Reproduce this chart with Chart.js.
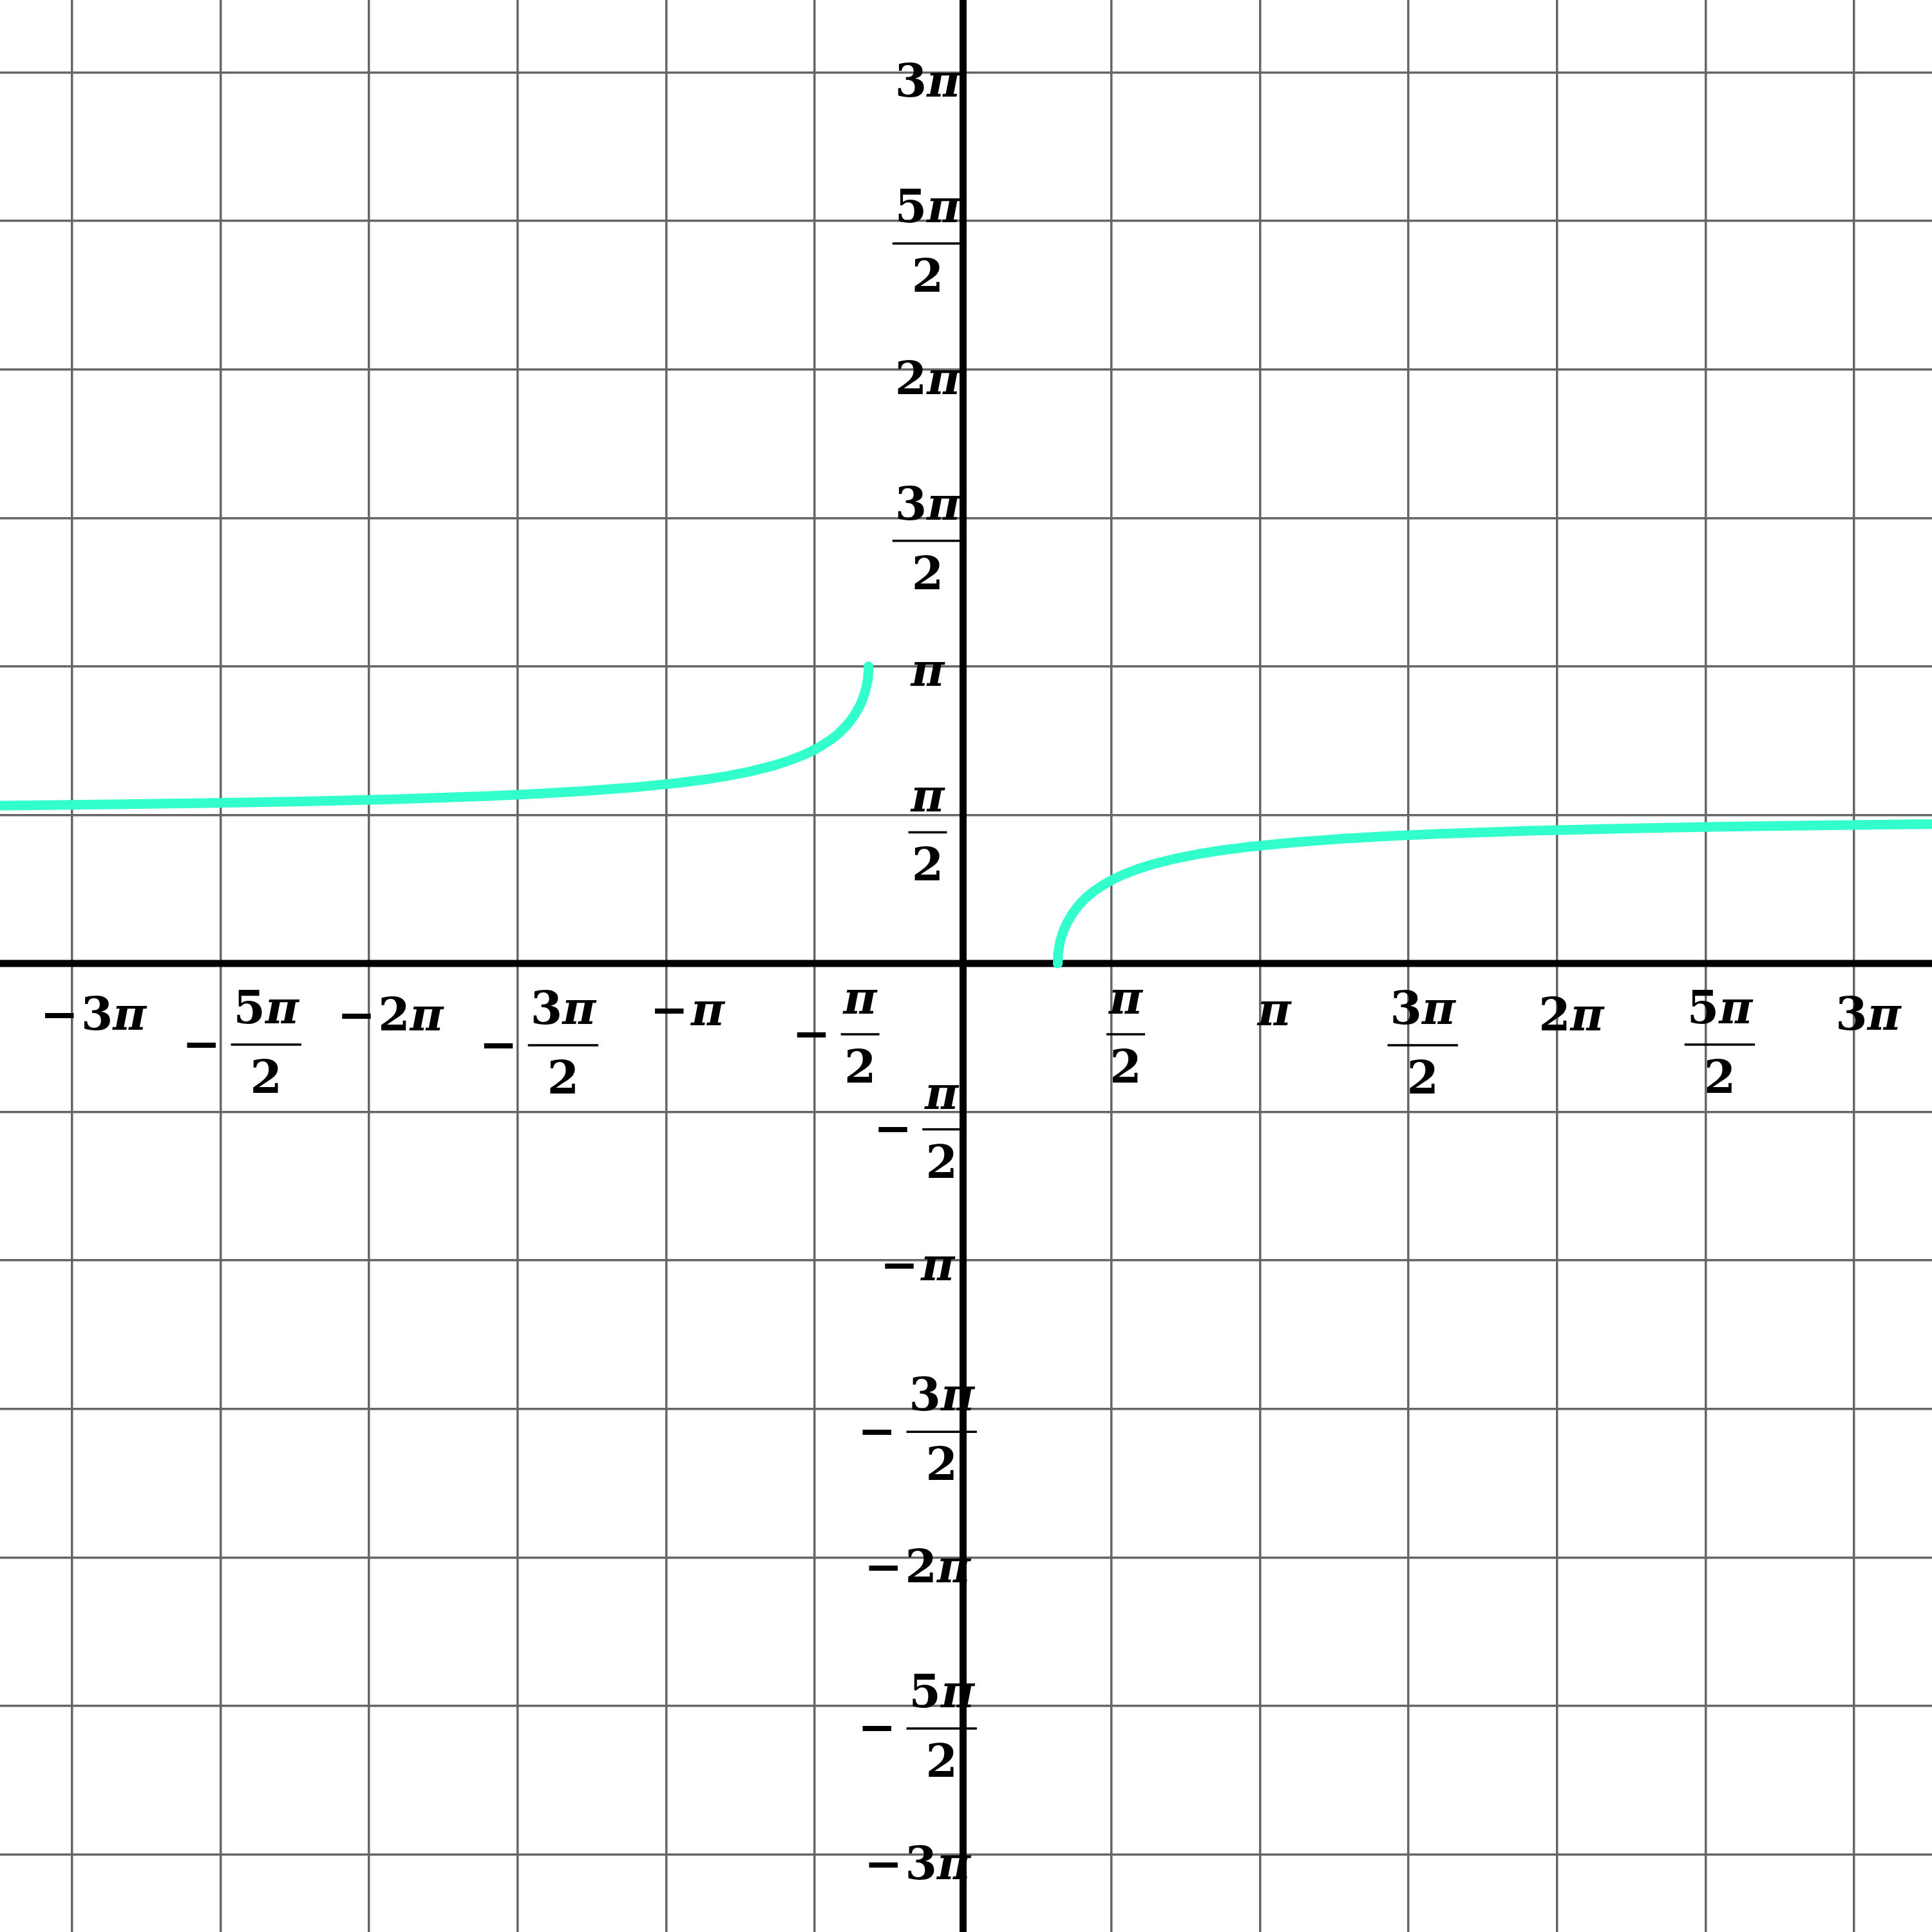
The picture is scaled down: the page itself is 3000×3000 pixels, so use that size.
<!DOCTYPE html>
<html>
<head>
<meta charset="utf-8">
<script src="https://cdn.jsdelivr.net/npm/chart.js@4"></script>
<style>
  html, body { margin: 0; padding: 0; background: #fff; }
  #wrap { width: 3000px; height: 3000px; }
</style>
</head>
<body>
<div id="wrap"><canvas id="graph" width="3000" height="3000"></canvas></div>
<script>
// right branch of the curve (x >= 1)
const rightX = [1, 1.002, 1.005, 1.01, 1.02, 1.03, 1.04, 1.06, 1.08, 1.1, 1.15, 1.2, 1.25, 1.3, 1.35, 1.4, 1.5, 1.6, 1.7, 1.85, 2, 2.25, 2.5, 2.75, 3, 3.5, 4, 4.5, 5, 6, 7, 8, 9, 10, 10.25];
const rightY = [0, 0.063, 0.100, 0.141, 0.198, 0.242, 0.278, 0.338, 0.388, 0.430, 0.517, 0.586, 0.644, 0.695, 0.738, 0.775, 0.841, 0.896, 0.942, 1.000, 1.047, 1.110, 1.159, 1.199, 1.231, 1.281, 1.318, 1.347, 1.369, 1.403, 1.427, 1.446, 1.460, 1.471, 1.473];

// left branch (x <= -1)
const leftX = [-10.2, -10, -9, -8, -7, -6, -5, -4.5, -4, -3.5, -3, -2.75, -2.5, -2.25, -2, -1.85, -1.7, -1.6, -1.5, -1.4, -1.35, -1.3, -1.25, -1.2, -1.15, -1.1, -1.08, -1.06, -1.04, -1.03, -1.02, -1.01, -1.005, -1.002, -1];
const leftY = [1.669, 1.671, 1.682, 1.696, 1.714, 1.738, 1.772, 1.795, 1.824, 1.861, 1.911, 1.943, 1.982, 2.031, 2.094, 2.142, 2.200, 2.246, 2.301, 2.366, 2.404, 2.447, 2.498, 2.556, 2.625, 2.712, 2.754, 2.804, 2.864, 2.900, 2.944, 3.001, 3.042, 3.079, 3.142];

// grid / tick positions in steps of pi/2, and their labels
const tickSteps = [-6, -5, -4, -3, -2, -1, 1, 2, 3, 4, 5, 6];
const tickLabels = ['−3π', '−5π/2', '−2π', '−3π/2', '−π', '−π/2', 'π/2', 'π', '3π/2', '2π', '5π/2', '3π'];

const curveColor = '#33FFCC';
const FONT_NUM = 'bold 71px "DejaVu Serif"';
const FONT_PI = 'bold italic 71px "DejaVu Serif"';

function parseLabel(s) {
  let neg = s.startsWith('−');
  if (neg) s = s.slice(1);
  let parts = s.split('/');
  return { neg: neg, num: parts[0], den: parts[1] || null };
}

function termMetrics(ctx, s) {
  let w = 0, asc = 0, desc = 0;
  for (const ch of s) {
    ctx.font = ch === 'π' ? FONT_PI : FONT_NUM;
    const m = ctx.measureText(ch);
    w += m.width;
    asc = Math.max(asc, m.actualBoundingBoxAscent);
    desc = Math.max(desc, m.actualBoundingBoxDescent);
  }
  return { w: w, asc: asc, desc: desc };
}

function drawTerm(ctx, s, left, base) {
  let xx = left;
  for (const ch of s) {
    ctx.font = ch === 'π' ? FONT_PI : FONT_NUM;
    ctx.fillText(ch, xx, base);
    xx += ctx.measureText(ch).width;
  }
}

function drawLabel(ctx, lab, cx, ref, axis) {
  ctx.font = FONT_NUM;
  const mm = ctx.measureText('−');
  const mw = mm.width;
  const minusMid = (mm.actualBoundingBoxAscent - mm.actualBoundingBoxDescent) / 2;

  if (!lab.den) {
    const t = termMetrics(ctx, lab.num);
    const gap = 4;
    const total = (lab.neg ? mw + gap : 0) + t.w;
    let left = cx - total / 2;
    const cy = axis === 'x' ? ref + 77 : ref + 12;
    const base = cy + (t.asc - t.desc) / 2;
    if (lab.neg) {
      ctx.font = FONT_NUM;
      ctx.fillText('−', left, base);
      left += mw + gap;
    }
    drawTerm(ctx, lab.num, left, base);
    return;
  }

  const n = termMetrics(ctx, lab.num);
  const d = termMetrics(ctx, lab.den);
  const barW = Math.max(n.w, d.w) + 8;
  // layout relative to numerator ink top
  const numBase = n.asc;
  const barY = n.asc + n.desc + 32;
  const denTop = barY + 22;
  const denBase = denTop + d.asc;
  const H = denBase + d.desc;
  const top = axis === 'x' ? ref + 41 : ref + 30 - H / 2;

  const gap = 16;
  const total = (lab.neg ? mw + gap : 0) + barW;
  let left = cx - total / 2;
  if (lab.neg) {
    ctx.font = FONT_NUM;
    ctx.fillText('−', left, top + barY + minusMid);
    left += mw + gap;
  }
  drawTerm(ctx, lab.num, left + (barW - n.w) / 2, top + numBase);
  ctx.fillRect(left, top + barY - 1.75, barW, 3.5);
  drawTerm(ctx, lab.den, left + (barW - d.w) / 2, top + denBase);
}

const piLabels = {
  id: 'piLabels',
  beforeDatasetsDraw(chart) {
    const ctx = chart.ctx;
    const x = chart.scales.x, y = chart.scales.y;
    const area = chart.chartArea;
    const x0 = x.getPixelForValue(0), y0 = y.getPixelForValue(0);
    ctx.save();
    ctx.fillStyle = '#000';
    ctx.textAlign = 'left';
    ctx.textBaseline = 'alphabetic';
    tickSteps.forEach((m, i) => {
      const v = m * Math.PI / 2;
      const lab = parseLabel(tickLabels[i]);
      drawLabel(ctx, lab, x.getPixelForValue(v) + (lab.neg ? 33 : 22), y0, 'x');
      drawLabel(ctx, lab, x0 - (lab.neg ? 71 : 55), y.getPixelForValue(v), 'y');
    });
    // the two axes
    ctx.fillRect(x0 - 5.5, area.top, 11, area.height);
    ctx.fillRect(area.left, y0 - 5.5, area.width, 11);
    ctx.restore();
  }
};

function piTicks(scale) {
  scale.ticks = [-6, -5, -4, -3, -2, -1, 0, 1, 2, 3, 4, 5, 6].map(m => ({ value: m * Math.PI / 2 }));
}

const lineStyle = {
  showLine: true,
  borderColor: curveColor,
  backgroundColor: curveColor,
  borderWidth: 15,
  pointRadius: 0,
  borderCapStyle: 'round',
  borderJoinStyle: 'round',
  fill: false,
  tension: 0
};

let graph = new Chart(document.getElementById('graph'), {
  type: 'scatter',
  data: {
    datasets: [
      Object.assign({ data: rightX.map((v, i) => ({ x: v, y: rightY[i] })) }, lineStyle),
      Object.assign({ data: leftX.map((v, i) => ({ x: v, y: leftY[i] })) }, lineStyle)
    ]
  },
  options: {
    responsive: false,
    devicePixelRatio: 1,
    animation: false,
    layout: { padding: 0 },
    plugins: { legend: { display: false }, tooltip: { enabled: false } },
    scales: {
      x: {
        type: 'linear', min: -10.187, max: 10.249,
        afterBuildTicks: piTicks,
        ticks: { display: false },
        grid: { color: '#666666', lineWidth: 3.5, drawTicks: false },
        border: { display: false }
      },
      y: {
        type: 'linear', min: -10.245, max: 10.191,
        afterBuildTicks: piTicks,
        ticks: { display: false },
        grid: { color: '#666666', lineWidth: 3.5, drawTicks: false },
        border: { display: false }
      }
    }
  },
  plugins: [piLabels]
});
</script>
</body>
</html>
